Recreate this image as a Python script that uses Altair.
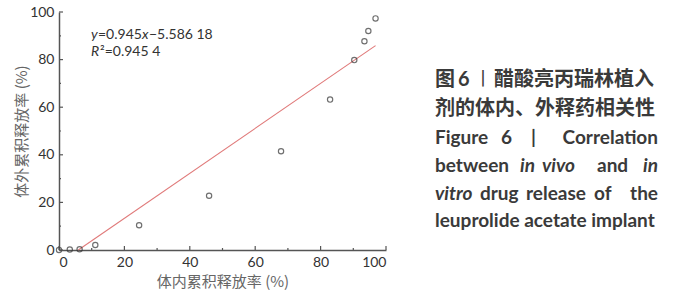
import altair as alt
import pandas as pd

# In vivo (x) vs in vitro (y) cumulative release, %
in_vivo = [0.0, 3.3, 6.3, 11.1, 24.5, 45.9, 67.9, 82.9, 90.3, 93.4, 94.6, 96.8]
in_vitro = [0.0, 0.2, 0.3, 2.1, 10.4, 22.8, 41.5, 63.2, 79.8, 87.7, 92.0, 97.3]

# Fitted regression line y = SLOPE * x + INTERCEPT over the fitted range
SLOPE = 0.945
INTERCEPT = -5.58618
fit_x = [5.9, 96.8]

major_ticks = [0, 20, 40, 60, 80, 100]
minor_ticks = [10, 30, 50, 70, 90]

W, H = 327, 238
AXIS_COLOR = "#555555"
TEXT_COLOR = "#333333"
CAP_COLOR = "#3a3a3a"
LATIN = "Lato"
CJK = "Noto Sans CJK SC"

pts = pd.DataFrame({"vivo": in_vivo, "vitro": in_vitro})
fit = pd.DataFrame({"vivo": fit_x})

xs = alt.Scale(domain=[0, 100], nice=False)
ys = alt.Scale(domain=[0, 100], nice=False)

x_axis = alt.Axis(
    values=major_ticks, ticks=False, grid=False, domainColor=AXIS_COLOR,
    domainWidth=1.5, labelFont=LATIN, labelFontSize=14, labelColor=TEXT_COLOR,
    labelPadding=5, title="体内累积释放率 (%)", titleFont=CJK, titleFontSize=15,
    titleFontWeight="normal", titleColor="#666666", titlePadding=5,
)
y_axis = alt.Axis(
    values=major_ticks, ticks=False, grid=False, domainColor=AXIS_COLOR,
    domainWidth=1.5, labelFont=LATIN, labelFontSize=14, labelColor=TEXT_COLOR,
    labelPadding=5, title="体外累积释放率 (%)", titleFont=CJK, titleFontSize=15,
    titleFontWeight="normal", titleColor="#666666", titlePadding=0,
)

points = alt.Chart(pts).mark_point(
    shape="circle", filled=False, size=28, strokeWidth=1.15, color="#333333", clip=False
).encode(
    x=alt.X("vivo:Q", scale=xs, axis=x_axis),
    y=alt.Y("vitro:Q", scale=ys, axis=y_axis),
)

line = alt.Chart(fit).transform_calculate(
    vitro=f"{SLOPE} * datum.vivo + ({INTERCEPT})"
).mark_line(color="#e07a7a", strokeWidth=1.1).encode(
    x=alt.X("vivo:Q", scale=xs),
    y=alt.Y("vitro:Q", scale=ys),
)

# Inward tick marks on both axes
maj = pd.DataFrame({"t": major_ticks})
mnr = pd.DataFrame({"t": minor_ticks})
x_major = alt.Chart(maj).mark_rule(color=AXIS_COLOR, strokeWidth=1.2).encode(
    x=alt.X("t:Q", scale=xs), y=alt.value(H), y2=alt.value(H - 4))
y_major = alt.Chart(maj).mark_rule(color=AXIS_COLOR, strokeWidth=1.2).encode(
    y=alt.Y("t:Q", scale=ys), x=alt.value(0), x2=alt.value(4))
x_minor = alt.Chart(mnr).mark_rule(color=AXIS_COLOR, strokeWidth=1.2).encode(
    x=alt.X("t:Q", scale=xs), y=alt.value(H), y2=alt.value(H - 2))
y_minor = alt.Chart(mnr).mark_rule(color=AXIS_COLOR, strokeWidth=1.2).encode(
    y=alt.Y("t:Q", scale=ys), x=alt.value(0), x2=alt.value(2))


def label(text, x, y, font=LATIN, size=14, weight="normal", style="normal",
          align="left", color=TEXT_COLOR):
    return alt.Chart(pd.DataFrame({"s": [text]})).mark_text(
        font=font, fontSize=size, fontWeight=weight, fontStyle=style,
        align=align, baseline="middle", color=color,
    ).encode(text="s:N", x=alt.value(x), y=alt.value(y))


# Regression equation and coefficient of determination
eq_size = 14
eq = [
    label("y", 32, 23, size=eq_size, style="italic"),
    label("=0.945", 39, 23, size=eq_size),
    label("x", 83, 23, size=eq_size, style="italic"),
    label("−5.586 18", 90, 23, size=eq_size),
    label("R", 32, 40, size=eq_size, style="italic"),
    label("²=0.945 4", 41, 40, size=eq_size),
]

# Figure caption to the right of the plot
ox, oy = 59, 12
cs = 19


def cap_word(text, x, y, style="normal", align="left"):
    return label(text, x - ox, y - oy, size=cs, weight="bold", style=style,
                 align=align, color=CAP_COLOR)


cap = [
    label("图", 435 - ox, 80 - oy, font=CJK, size=20, weight="bold", color=CAP_COLOR),
    label("6", 458 - ox, 80 - oy, font=LATIN, size=20, weight="bold", color=CAP_COLOR),
    label("丨", 474 - ox, 80 - oy, font=CJK, size=18, color=CAP_COLOR),
    label("醋酸亮丙瑞林植入", 494 - ox, 80 - oy, font=CJK, size=20, weight="bold", color=CAP_COLOR),
    label("剂的体内、外释药相关性", 435 - ox, 109 - oy, font=CJK, size=20, weight="bold", color=CAP_COLOR),
    cap_word("Figure", 435, 138),
    cap_word("6", 501, 138),
    cap_word("|", 531, 138),
    cap_word("Correlation", 658, 138, align="right"),
    cap_word("between", 435, 166),
    cap_word("in", 520, 166, style="italic"),
    cap_word("vivo", 542, 166, style="italic"),
    cap_word("and", 597, 166),
    cap_word("in", 658, 166, style="italic", align="right"),
    cap_word("vitro", 435, 194, style="italic"),
    cap_word("drug", 480, 194),
    cap_word("release", 526, 194),
    cap_word("of", 594, 194),
    cap_word("the", 658, 194, align="right"),
    cap_word("leuprolide acetate implant", 435, 221),
]

chart = alt.layer(
    line, points, x_major, y_major, x_minor, y_minor, *eq, *cap
).properties(
    width=W, height=H,
    autosize=alt.AutoSizeParams(type="none"),
    padding={"left": ox, "top": oy, "right": 675 - ox - W, "bottom": 300 - oy - H},
    background="white",
).configure_view(stroke=None)

chart.save("out.html", embed_options={"renderer": "svg", "actions": False})
